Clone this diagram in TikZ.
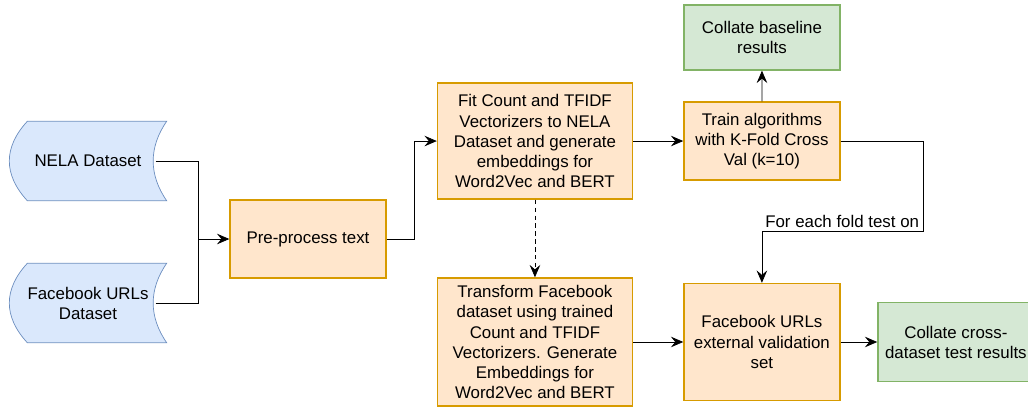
\documentclass[tikz,border=0pt]{standalone}
\usepackage{fontspec}
\setmainfont{Liberation Sans}
\usepackage{tikz}
\usetikzlibrary{positioning, calc, arrows.meta, backgrounds}

\definecolor{procfill}{HTML}{FFE6CC}
\definecolor{procline}{HTML}{D79B00}
\definecolor{resfill}{HTML}{D5E8D4}
\definecolor{resline}{HTML}{82B366}
\definecolor{datafill}{HTML}{DAE8FC}
\definecolor{dataline}{HTML}{6C8EBF}

\begin{document}
\begin{tikzpicture}[x=0.02cm, y=-0.02cm, node distance=4.54cm, thick, >={Stealth[length=7pt, width=6pt, inset=2.5pt]}, font=\fontsize{9.6}{11.4}\selectfont]
        % Define block styles
        \tikzstyle{block} = [rectangle, draw=procline, fill=procfill, align=center, minimum width=3.12cm, minimum height=1.56cm, inner sep=2pt]
        \tikzstyle{result} = [block, draw=resline, fill=resfill]
        \tikzstyle{datastore} = [rectangle, align=center, minimum width=3.12cm, minimum height=1.56cm]
        \tikzstyle{storage} = [draw=dataline, fill=datafill]

        \useasboundingbox (0,0) rectangle (1028,407);

        % Place nodes
        \node [datastore] (nela) at (88,161) {NELA Dataset};
        \node [datastore] (fburl) at (88,303) {Facebook URLs\\Dataset};
        \node [block] (pre) at (308,239) {Pre-process text};
        \node [block, right of=pre, yshift=1.96cm, minimum width=3.9cm, minimum height=2.32cm] (fit) {Fit Count and TFIDF\\Vectorizers to NELA\\Dataset and generate\\embeddings for\\Word2Vec and BERT};
        \node [block, right of=pre, yshift=-2.06cm, minimum width=3.9cm, minimum height=2.56cm] (trans) {Transform Facebook\\dataset using trained\\Count and TFIDF\\Vectorizers. Generate\\Embeddings for\\Word2Vec and BERT};
        \node [block, right of=fit] (train) {Train algorithms\\with K-Fold Cross\\Val (k=10)};
        \node [result, minimum height=1.3cm] (base) at (762,37.5) {Collate baseline\\results};
        \node [block, right of=trans, minimum height=2.34cm] (fbval) {Facebook URLs\\external validation\\set};
        \node [result, right of=fbval, xshift=-0.66cm, minimum height=1.58cm] (cross) {Collate cross-\\dataset test results};

        % Data storage outlines behind the dataset nodes
        \begin{pgfonlayer}{background}
            \foreach \ds in {nela, fburl} {
                \draw [storage] ($(\ds.north west)+(18,0)$) -- (\ds.north east)
                    .. controls ($(\ds.north east)+(-18,26)$) and ($(\ds.south east)+(-18,-26)$) .. (\ds.south east)
                    -- ($(\ds.south west)+(18,0)$)
                    .. controls ($(\ds.south west)+(-6,-26)$) and ($(\ds.north west)+(-6,26)$) .. cycle;
            }
        \end{pgfonlayer}

        % Draw connections as arrows
        \coordinate [left=0.62cm of pre.west] (merge);
        \coordinate (turn) at ($(fbval.north)+(161,-51)$);
        \draw ($(nela.east)+(-11,0)$) -| (merge);
        \draw ($(fburl.east)+(-11,0)$) -| (merge);
        \draw [->] (merge) -- (pre);
        \draw [->] (pre.east) -- ++(28,0) |- (fit.west);
        \draw [->] (fit) -- (train);
        \draw [->] (train) -- (base);
        \draw [->, dash pattern=on 2.5pt off 2pt] (fit) -- (trans);
        \draw [->] (trans) -- (fbval);
        \draw [->] (fbval) -- (cross);
        \draw [->] (train.east) -| (turn) -| (fbval.north);

        % Add text on the arrows
        \node [anchor=south east, inner sep=2pt] (foldtxt) at (turn) {For each fold test on};
    \end{tikzpicture}
\end{document}
